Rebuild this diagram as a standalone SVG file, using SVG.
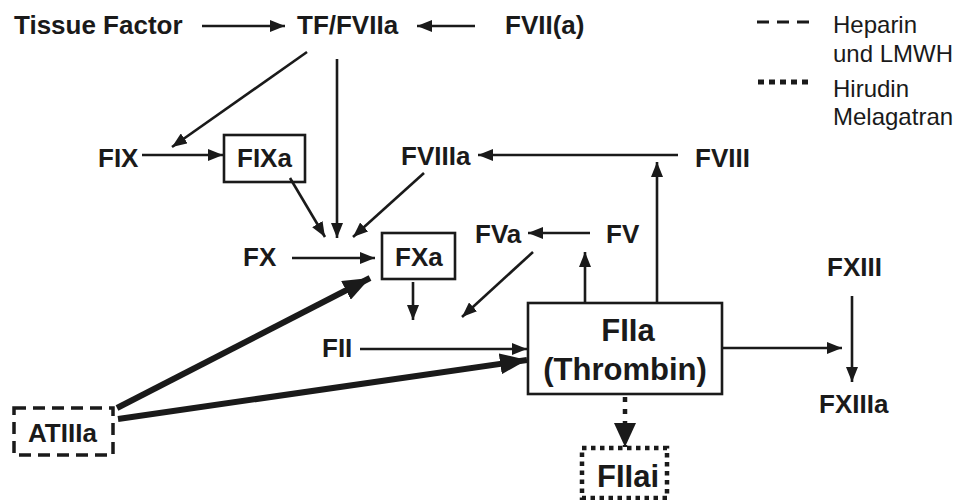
<svg xmlns="http://www.w3.org/2000/svg" width="964" height="500" viewBox="0 0 964 500">
<style>
.t{font-family:"Liberation Sans",Arial,sans-serif;font-weight:bold;font-size:26px;fill:#1a1a1a}
.big{font-size:31px}
.lg{font-family:"Liberation Sans",Arial,sans-serif;font-size:24px;fill:#1a1a1a}
.c{stroke:#1a1a1a;stroke-width:2.6;fill:none}
.th{stroke:#1a1a1a;stroke-width:6;fill:none}
.box{fill:none;stroke:#1a1a1a;stroke-width:2.6}
</style>
<defs>
<marker id="a" markerUnits="userSpaceOnUse" markerWidth="15" markerHeight="12" refX="15" refY="6" orient="auto"><path d="M0,0 L15,6 L0,12 z" fill="#1a1a1a"/></marker>
<marker id="b" markerUnits="userSpaceOnUse" markerWidth="27" markerHeight="21" refX="27" refY="10.5" orient="auto"><path d="M0,0 L27,10.5 L0,21 z" fill="#1a1a1a"/></marker>
<marker id="d" markerUnits="userSpaceOnUse" markerWidth="24" markerHeight="22" refX="24" refY="11" orient="auto"><path d="M0,0 L24,11 L0,22 z" fill="#1a1a1a"/></marker>
</defs>
<rect width="964" height="500" fill="#fff"/>

<g id="legend">
<line x1="757" y1="22" x2="809" y2="22" stroke="#1a1a1a" stroke-width="3" stroke-dasharray="12 8"/>
<text class="lg" x="833" y="33">Heparin</text>
<text class="lg" x="833" y="62">und LMWH</text>
<line x1="758" y1="82" x2="808" y2="82" stroke="#1a1a1a" stroke-width="5" stroke-dasharray="6 5"/>
<text class="lg" x="833" y="97">Hirudin</text>
<text class="lg" x="833" y="125">Melagatran</text>
</g>

<g id="connectors">
<line class="c" x1="202" y1="26" x2="285" y2="26" marker-end="url(#a)"/>
<line class="c" x1="475" y1="26" x2="417" y2="26" marker-end="url(#a)"/>
<line class="c" x1="307" y1="52" x2="172" y2="147" marker-end="url(#a)"/>
<line class="c" x1="337" y1="59" x2="337" y2="238" marker-end="url(#a)"/>
<line class="c" x1="142" y1="155" x2="223" y2="155" marker-end="url(#a)"/>
<line class="c" x1="290" y1="178" x2="325" y2="237" marker-end="url(#a)"/>
<line class="c" x1="424" y1="173" x2="353" y2="237" marker-end="url(#a)"/>
<line class="c" x1="678" y1="155" x2="478" y2="155" marker-end="url(#a)"/>
<line class="c" x1="292" y1="258" x2="375" y2="258" marker-end="url(#a)"/>
<line class="c" x1="413" y1="282" x2="413" y2="320" marker-end="url(#a)"/>
<line class="c" x1="590" y1="233" x2="528" y2="233" marker-end="url(#a)"/>
<line class="c" x1="533" y1="252" x2="462" y2="317" marker-end="url(#a)"/>
<line class="c" x1="585" y1="302" x2="585" y2="252" marker-end="url(#a)"/>
<line class="c" x1="657" y1="302" x2="657" y2="162" marker-end="url(#a)"/>
<line class="c" x1="360" y1="349" x2="527" y2="349" marker-end="url(#a)"/>
<line class="th" x1="117" y1="408" x2="370" y2="278" marker-end="url(#b)"/>
<line class="th" x1="118" y1="419" x2="527" y2="360" marker-end="url(#b)"/>
<line class="c" x1="722" y1="348" x2="842" y2="348" marker-end="url(#a)"/>
<line class="c" x1="852" y1="296" x2="852" y2="382" marker-end="url(#a)"/>
<line x1="625" y1="397" x2="625" y2="447" stroke="#1a1a1a" stroke-width="4.5" stroke-dasharray="5 7" marker-end="url(#d)"/>
</g>

<g id="tissuefactor"><text class="t" x="14" y="34">Tissue Factor</text></g>
<g id="tffviia"><text class="t" x="297" y="34">TF/FVIIa</text></g>
<g id="fviia"><text class="t" x="505" y="34">FVII(a)</text></g>
<g id="fix"><text class="t" x="98" y="167">FIX</text></g>
<g id="fixa"><rect class="box" x="224" y="135" width="81" height="47"/><text class="t" x="237" y="167">FIXa</text></g>
<g id="fviiia"><text class="t" x="401" y="165">FVIIIa</text></g>
<g id="fviii"><text class="t" x="695" y="167">FVIII</text></g>
<g id="fx"><text class="t" x="243" y="266">FX</text></g>
<g id="fxa"><rect class="box" x="382" y="233" width="73" height="46"/><text class="t" x="395" y="266">FXa</text></g>
<g id="fva"><text class="t" x="475" y="243">FVa</text></g>
<g id="fv"><text class="t" x="606" y="243">FV</text></g>
<g id="fxiii"><text class="t" x="827" y="276">FXIII</text></g>
<g id="fxiiia"><text class="t" x="819" y="413">FXIIIa</text></g>
<g id="fii"><text class="t" x="322" y="357">FII</text></g>
<g id="fiia"><rect class="box" x="528" y="303" width="194" height="91"/><text class="t big" x="628" y="341" text-anchor="middle">FIIa</text><text class="t big" x="625" y="380" text-anchor="middle">(Thrombin)</text></g>
<g id="atiiia"><rect x="14" y="408" width="99" height="47" fill="none" stroke="#1a1a1a" stroke-width="3.5" stroke-dasharray="12 7"/><text class="t" x="28" y="442">ATIIIa</text></g>
<g id="fiiai"><rect x="582" y="448" width="85" height="50" fill="none" stroke="#1a1a1a" stroke-width="4.5" stroke-dasharray="4.5 4.5"/><text class="t big" x="597" y="487">FIIai</text></g>
</svg>
